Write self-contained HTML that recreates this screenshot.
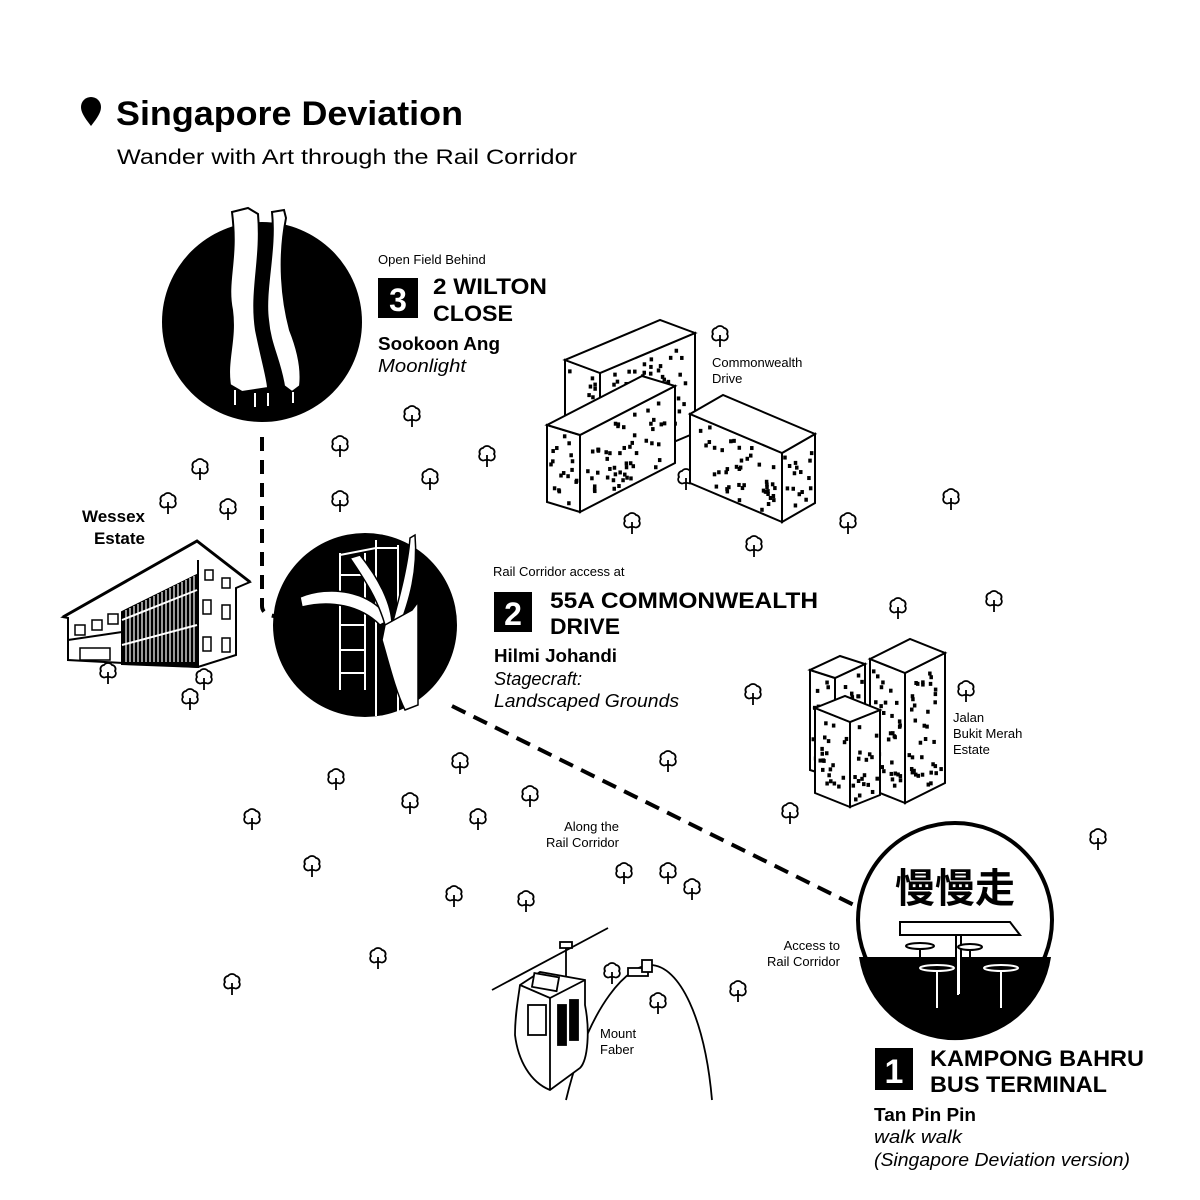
<!DOCTYPE html>
<html><head><meta charset="utf-8"><style>
body{margin:0;background:#fff;}
svg{display:block}
text{font-family:"Liberation Sans","Noto Sans CJK SC",sans-serif;fill:#000}
.b{font-weight:bold}
.i{font-style:italic}
</style></head><body>
<svg id="s" width="1200" height="1200" viewBox="0 0 1200 1200" xmlns="http://www.w3.org/2000/svg">
<defs>
<g id="tree"><path d="M-2,5 a4,4 0 0 1 -5,-6 a4,4 0 0 1 3,-6 a5,5 0 0 1 8,0 a4,4 0 0 1 3,6 a4,4 0 0 1 -5,6 z" fill="#fff" stroke="#000" stroke-width="1.8"/><path d="M0,0 v12" stroke="#000" stroke-width="1.8"/></g>
</defs>
<path d="M91,126 C84,117 81,112 81,107 a10,10 0 0 1 20,0 C101,112 98,117 91,126z" fill="#000"/>
<text x="116" y="125" font-size="34" class="b" textLength="347" lengthAdjust="spacingAndGlyphs">Singapore Deviation</text>
<text x="117" y="164" font-size="21" textLength="460" lengthAdjust="spacingAndGlyphs">Wander with Art through the Rail Corridor</text>

<path d="M262,437 V606 q0,8 12,10" fill="none" stroke="#000" stroke-width="4" stroke-dasharray="14,9"/>
<path d="M452,706 L856,906" fill="none" stroke="#000" stroke-width="4" stroke-dasharray="15,9"/>

<g id="trees"></g>
<g id="bld"></g>

<g stroke="#000" stroke-width="2" fill="#fff">
<polygon points="63,617 197,541 250,582 236,588 236,655 198,667 68,660 68,618"/>
<polygon points="122,612 197,575 198,667 122,664" fill="#000"/>
<polyline points="63,617 197,541 250,582" fill="none" stroke-width="3"/>
<line x1="198" y1="560" x2="198" y2="667"/>
<line x1="68" y1="640" x2="122" y2="632"/>
</g>
<g stroke="#fff" stroke-width="1.2" id="wstripes"></g>
<g stroke="#fff" stroke-width="2"><line x1="122" y1="620" x2="197" y2="590"/><line x1="122" y1="645" x2="197" y2="625"/></g>
<g fill="none" stroke="#000" stroke-width="1.5">
<rect x="205" y="570" width="8" height="10"/><rect x="222" y="578" width="8" height="10"/>
<rect x="203" y="600" width="8" height="14"/><rect x="222" y="605" width="8" height="14"/>
<rect x="203" y="637" width="8" height="14"/><rect x="222" y="638" width="8" height="14"/>
<rect x="75" y="625" width="10" height="10"/><rect x="92" y="620" width="10" height="10"/><rect x="108" y="614" width="10" height="10"/>
<rect x="80" y="648" width="30" height="12"/>
</g>

<circle cx="262" cy="322" r="100" fill="#000"/>
<g fill="#fff" stroke="#000" stroke-width="2">
<path d="M232,212 L248,208 L258,214 C262,260 250,290 256,330 C262,360 268,380 268,388 L242,392 L230,385 C226,360 236,340 232,310 C226,280 238,260 232,212z"/>
<path d="M272,212 L284,210 L286,218 C278,260 282,300 290,330 C298,350 302,370 300,386 L292,392 L284,386 C280,360 270,345 268,320 C264,290 276,250 272,212z"/>
</g>
<g stroke="#fff" stroke-width="2"><line x1="235" y1="390" x2="235" y2="405"/><line x1="255" y1="393" x2="255" y2="407"/><line x1="268" y1="393" x2="268" y2="406"/><line x1="293" y1="392" x2="293" y2="403"/></g>

<circle cx="365" cy="625" r="92" fill="#000"/>
<g stroke="#fff" stroke-width="2" fill="none">
<line x1="340" y1="553" x2="340" y2="690"/><line x1="365" y1="553" x2="365" y2="690"/>
<line x1="376" y1="540" x2="376" y2="716"/><line x1="398" y1="545" x2="398" y2="716"/>
<path d="M340,575 h25 M340,600 h25 M340,625 h25 M340,650 h25 M340,673 h25 M340,555 L376,548 L398,548"/>
</g>
<g fill="#fff" stroke="#000" stroke-width="1.5">
<path d="M300,597 C330,585 370,590 390,620 L380,625 C360,605 330,600 302,607z"/>
<path d="M350,558 L360,555 C380,580 392,605 392,625 L385,625 C378,600 365,580 350,558z"/>
<path d="M410,538 L415,535 C418,570 410,600 398,630 L392,625 C400,595 408,565 410,538z"/>
<path d="M385,625 L412,610 L418,602 L418,705 L405,710 C395,690 388,660 382,640z"/>
</g>

<circle cx="955" cy="920" r="97" fill="#fff" stroke="#000" stroke-width="4"/>
<path d="M859,957 H1051 A97,97 0 0 1 859,957z" fill="#000"/>
<text x="955" y="902" font-size="40" class="b" text-anchor="middle">慢慢走</text>
<g stroke="#000" stroke-width="2" fill="#fff">
<polygon points="900,922 1010,922 1020,935 900,935"/>
<rect x="956" y="935" width="5" height="60"/>
<ellipse cx="920" cy="946" rx="14" ry="3"/><line x1="920" y1="949" x2="920" y2="985"/>
<ellipse cx="970" cy="947" rx="12" ry="3"/><line x1="970" y1="950" x2="970" y2="985"/>
</g>
<g stroke="#fff" stroke-width="2" fill="#000">
<ellipse cx="937" cy="968" rx="17" ry="3"/><line x1="937" y1="971" x2="937" y2="1008"/>
<ellipse cx="1001" cy="968" rx="17" ry="3"/><line x1="1001" y1="971" x2="1001" y2="1008"/>
<line x1="958" y1="960" x2="958" y2="995"/>
</g>

<g stroke="#000" stroke-width="1.8" fill="#fff">
<path d="M566,1100 C590,1000 630,965 650,965 C680,965 705,1020 712,1100" fill="none"/>
<line x1="492" y1="990" x2="608" y2="928"/>
<rect x="560" y="942" width="12" height="6"/>
<line x1="566" y1="948" x2="566" y2="980"/>
<path d="M520,985 L540,972 L585,980 L585,1005 C590,1030 588,1060 580,1068 L550,1090 C530,1082 518,1060 515,1035 C515,1015 518,1000 520,985z"/>
<path d="M520,985 L550,998 L585,980 M550,998 L550,1090"/>
<rect x="533" y="975" width="25" height="14" transform="rotate(10 545 982)"/>
<rect x="528" y="1005" width="18" height="30"/><rect x="558" y="1005" width="8" height="40" fill="#000"/><rect x="570" y="1000" width="8" height="40" fill="#000"/>
<rect x="628" y="968" width="20" height="8"/><rect x="642" y="960" width="10" height="12"/>
</g>

<text x="378" y="264" font-size="13">Open Field Behind</text>
<rect x="378" y="278" width="40" height="40" fill="#000"/>
<text x="398" y="311" font-size="32" class="b" text-anchor="middle" style="fill:#fff">3</text>
<text x="433" y="294" font-size="22" class="b" textLength="114" lengthAdjust="spacingAndGlyphs">2 WILTON</text>
<text x="433" y="321" font-size="22" class="b" textLength="80" lengthAdjust="spacingAndGlyphs">CLOSE</text>
<text x="378" y="350" font-size="18" class="b" textLength="122" lengthAdjust="spacingAndGlyphs">Sookoon Ang</text>
<text x="378" y="372" font-size="18" class="i" textLength="88" lengthAdjust="spacingAndGlyphs">Moonlight</text>

<text x="493" y="576" font-size="13">Rail Corridor access at</text>
<rect x="494" y="592" width="38" height="40" fill="#000"/>
<text x="513" y="625" font-size="32" class="b" text-anchor="middle" style="fill:#fff">2</text>
<text x="550" y="608" font-size="22" class="b" textLength="268" lengthAdjust="spacingAndGlyphs">55A COMMONWEALTH</text>
<text x="550" y="634" font-size="22" class="b" textLength="70" lengthAdjust="spacingAndGlyphs">DRIVE</text>
<text x="494" y="662" font-size="18" class="b" textLength="123" lengthAdjust="spacingAndGlyphs">Hilmi Johandi</text>
<text x="494" y="685" font-size="18" class="i" textLength="88" lengthAdjust="spacingAndGlyphs">Stagecraft:</text>
<text x="494" y="707" font-size="18" class="i" textLength="185" lengthAdjust="spacingAndGlyphs">Landscaped Grounds</text>

<rect x="875" y="1048" width="38" height="42" fill="#000"/>
<text x="894" y="1083" font-size="34" class="b" text-anchor="middle" style="fill:#fff">1</text>
<text x="930" y="1066" font-size="22" class="b" textLength="214" lengthAdjust="spacingAndGlyphs">KAMPONG BAHRU</text>
<text x="930" y="1092" font-size="22" class="b" textLength="177" lengthAdjust="spacingAndGlyphs">BUS TERMINAL</text>
<text x="874" y="1121" font-size="18" class="b" textLength="102" lengthAdjust="spacingAndGlyphs">Tan Pin Pin</text>
<text x="874" y="1143" font-size="18" class="i" textLength="88" lengthAdjust="spacingAndGlyphs">walk walk</text>
<text x="874" y="1166" font-size="18" class="i" textLength="256" lengthAdjust="spacingAndGlyphs">(Singapore Deviation version)</text>

<g font-size="13">
<text x="712" y="367">Commonwealth</text><text x="712" y="383">Drive</text>
<text x="953" y="722">Jalan</text><text x="953" y="738">Bukit Merah</text><text x="953" y="754">Estate</text>
<text x="619" y="831" text-anchor="end">Along the</text><text x="619" y="847" text-anchor="end">Rail Corridor</text>
<text x="840" y="950" text-anchor="end">Access to</text><text x="840" y="966" text-anchor="end">Rail Corridor</text>
<text x="600" y="1038">Mount</text><text x="600" y="1054">Faber</text>
</g>
<text x="145" y="522" font-size="17" class="b" text-anchor="end">Wessex</text>
<text x="145" y="544" font-size="17" class="b" text-anchor="end">Estate</text>
</svg>
<script>
var NS="http://www.w3.org/2000/svg";
function el(p,t,a){var e=document.createElementNS(NS,t);for(var k in a)e.setAttribute(k,a[k]);p.appendChild(e);return e;}
var tp=[[412,415],[340,445],[487,455],[200,468],[430,478],[168,502],[228,508],[340,500],[632,522],[754,545],[848,522],[951,498],[898,607],[994,600],[720,335],[686,478],[753,693],[966,690],[668,760],[460,762],[336,778],[530,795],[410,802],[478,818],[252,818],[790,812],[1098,838],[312,865],[624,872],[668,872],[692,888],[454,895],[526,900],[378,957],[232,983],[738,990],[108,672],[204,678],[190,698],[612,972],[658,1002]];
var tg=document.getElementById('trees');
tp.forEach(function(p){el(tg,'use',{href:'#tree',x:p[0],y:p[1]});});
var seed=7;function r(){seed=(seed*9301+49297)%233280;return seed/233280;}
var bg=document.getElementById('bld');
function box(cx,cy,Lx,Ly,Rx,Ry,H){
  var pts=function(a){return a.map(function(q){return q[0]+','+q[1]}).join(' ')};
  var C=[cx,cy],CL=[cx+Lx,cy+Ly],CR=[cx+Rx,cy+Ry];
  el(bg,'polygon',{points:pts([C,CL,[CL[0],CL[1]-H],[cx,cy-H]]),fill:'#fff',stroke:'#000','stroke-width':2});
  el(bg,'polygon',{points:pts([C,CR,[CR[0],CR[1]-H],[cx,cy-H]]),fill:'#fff',stroke:'#000','stroke-width':2});
  el(bg,'polygon',{points:pts([[cx,cy-H],[CL[0],CL[1]-H],[CL[0]+Rx,CL[1]+Ry-H],[CR[0],CR[1]-H]]),fill:'#fff',stroke:'#000','stroke-width':2});
  [[Lx,Ly],[Rx,Ry]].forEach(function(v){
    var n=Math.round(Math.abs(v[0])*H/140);
    for(var i=0;i<n;i++){var u=0.08+r()*0.84,w=0.05+r()*0.88;
      var x=cx+v[0]*u,y=cy+v[1]*u-H*w;
      el(bg,'rect',{x:x-1.5,y:y-2,width:3.5,height:4,fill:'#000'});}
  });
}
box(600,473,-35,-13,95,-40,100);
box(580,512,-33,-10,95,-49,77);
box(782,522,-92,-39,33,-19,69);
box(835,778,-25,-8,30,-14,100);
box(905,803,-35,-14,40,-20,130);
box(850,807,-35,-14,30,-12,85);
var ws=document.getElementById('wstripes');
for(var x=126;x<196;x+=4){el(ws,'line',{x1:x,y1:612-(x-122)*0.5,x2:x,y2:662});}
</script>
</body></html>
